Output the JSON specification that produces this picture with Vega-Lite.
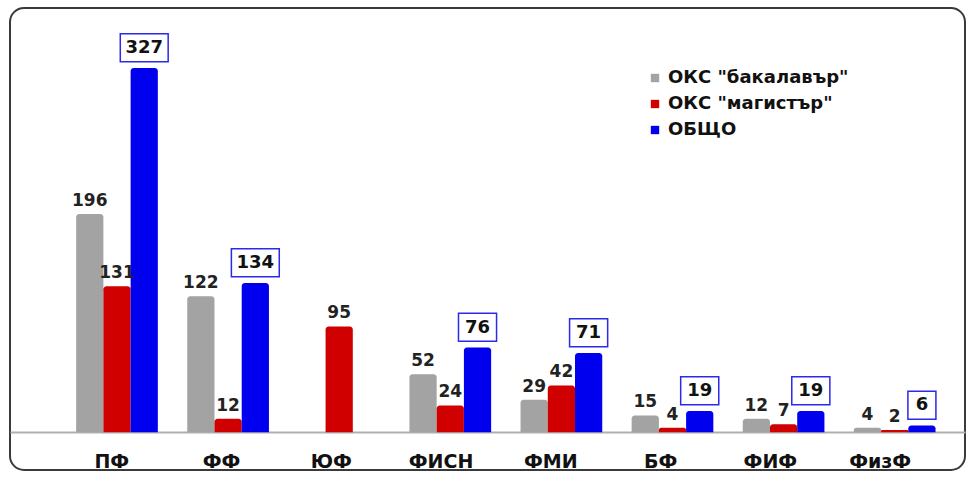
{
  "$schema": "https://vega.github.io/schema/vega-lite/v6.json",
  "width": 955,
  "height": 462,
  "autosize": {"type": "none"},
  "padding": {"left": 10, "top": 8, "right": 8, "bottom": 12},
  "background": "white",
  "config": {
    "view": {"stroke": "#3a3a3a", "strokeWidth": 2, "cornerRadius": 14},
    "font": "DejaVu Sans"
  },
  "data": {
    "values": [
      {"fac": "ПФ", "series": "ОКС \"бакалавър\"", "value": 196},
      {"fac": "ПФ", "series": "ОКС \"магистър\"", "value": 131},
      {"fac": "ПФ", "series": "ОБЩО", "value": 327},
      {"fac": "ФФ", "series": "ОКС \"бакалавър\"", "value": 122},
      {"fac": "ФФ", "series": "ОКС \"магистър\"", "value": 12},
      {"fac": "ФФ", "series": "ОБЩО", "value": 134},
      {"fac": "ЮФ", "series": "ОКС \"магистър\"", "value": 95},
      {"fac": "ФИСН", "series": "ОКС \"бакалавър\"", "value": 52},
      {"fac": "ФИСН", "series": "ОКС \"магистър\"", "value": 24},
      {"fac": "ФИСН", "series": "ОБЩО", "value": 76},
      {"fac": "ФМИ", "series": "ОКС \"бакалавър\"", "value": 29},
      {"fac": "ФМИ", "series": "ОКС \"магистър\"", "value": 42},
      {"fac": "ФМИ", "series": "ОБЩО", "value": 71},
      {"fac": "БФ", "series": "ОКС \"бакалавър\"", "value": 15},
      {"fac": "БФ", "series": "ОКС \"магистър\"", "value": 4},
      {"fac": "БФ", "series": "ОБЩО", "value": 19},
      {"fac": "ФИФ", "series": "ОКС \"бакалавър\"", "value": 12},
      {"fac": "ФИФ", "series": "ОКС \"магистър\"", "value": 7},
      {"fac": "ФИФ", "series": "ОБЩО", "value": 19},
      {"fac": "ФизФ", "series": "ОКС \"бакалавър\"", "value": 4},
      {"fac": "ФизФ", "series": "ОКС \"магистър\"", "value": 2},
      {"fac": "ФизФ", "series": "ОБЩО", "value": 6}
    ]
  },
  "resolve": {"scale": {"x": "independent"}, "axis": {"x": "independent"}},
  "layer": [
    {
      "mark": {"type": "bar", "opacity": 0},
      "encoding": {
        "x": {
          "field": "fac",
          "type": "nominal",
          "sort": ["ПФ", "ФФ", "ЮФ", "ФИСН", "ФМИ", "БФ", "ФИФ", "ФизФ"],
          "scale": {"type": "band", "paddingInner": 0, "paddingOuter": 0.35, "align": 0.61},
          "axis": {
            "title": null,
            "orient": "bottom",
            "offset": -38,
            "ticks": false,
            "domain": true,
            "domainColor": "#b0b0b0",
            "domainWidth": 2,
            "labelAngle": 0,
            "labelPadding": 20,
            "labelFont": "DejaVu Sans",
            "labelFontWeight": "bold",
            "labelFontSize": 19,
            "labelColor": "#111"
          }
        },
        "y": {
          "field": "value",
          "type": "quantitative",
          "scale": {"domain": [-34, 381], "nice": false, "zero": false},
          "axis": null
        },
        "y2": {"datum": 0}
      }
    },
    {
      "encoding": {
        "x": {
          "field": "fac",
          "type": "nominal",
          "sort": ["ПФ", "ФФ", "ЮФ", "ФИСН", "ФМИ", "БФ", "ФИФ", "ФизФ"],
          "scale": {"type": "band", "paddingInner": 0, "paddingOuter": 0.298, "align": 0.777},
          "axis": null
        },
        "xOffset": {
          "field": "series",
          "type": "nominal",
          "sort": ["ОКС \"бакалавър\"", "ОКС \"магистър\"", "ОБЩО"],
          "scale": {"paddingInner": 0, "paddingOuter": 0.54}
        },
        "y": {
          "field": "value",
          "type": "quantitative",
          "scale": {"domain": [-34, 381], "nice": false, "zero": false},
          "axis": null
        }
      },
      "layer": [
        {
          "mark": {"type": "bar", "cornerRadiusTopLeft": 3, "cornerRadiusTopRight": 3},
          "encoding": {
            "y2": {"datum": 0},
            "color": {
              "field": "series",
              "type": "nominal",
              "sort": ["ОКС \"бакалавър\"", "ОКС \"магистър\"", "ОБЩО"],
              "scale": {
                "domain": ["ОКС \"бакалавър\"", "ОКС \"магистър\"", "ОБЩО"],
                "range": ["#a3a3a3", "#d00000", "#0000ee"]
              },
              "legend": {
                "title": null,
                "orient": "none",
                "legendX": 636,
                "legendY": 61,
                "symbolType": "square",
                "symbolSize": 70,
                "symbolStrokeWidth": 0,
                "labelFont": "DejaVu Sans",
                "labelFontWeight": "bold",
                "labelFontSize": 18,
                "labelColor": "#111",
                "labelLimit": 400,
                "rowPadding": 8,
                "labelOffset": 4
              }
            }
          }
        },
        {
          "transform": [{"filter": "datum.series != 'ОБЩО'"}],
          "mark": {
            "type": "text",
            "baseline": "alphabetic",
            "dy": -8,
            "font": "DejaVu Sans",
            "fontWeight": "bold",
            "fontSize": 17,
            "color": "#222"
          },
          "encoding": {"text": {"field": "value", "type": "quantitative"}}
        },
        {
          "transform": [{"filter": "datum.series == 'ОБЩО'"}],
          "mark": {
            "type": "point",
            "fill": "white",
            "fillOpacity": 1,
            "opacity": 1,
            "stroke": "#2a2ae8",
            "strokeWidth": 1.5,
            "size": 784
          },
          "encoding": {
            "shape": {
              "condition": [
                {"test": "datum.value >= 100", "value": "M-1.71,-2.45H1.71V-0.45H-1.71Z"},
                {"test": "datum.value < 10", "value": "M-1.0,-2.45H1.0V-0.45H-1.0Z"}
              ],
              "value": "M-1.36,-2.45H1.36V-0.45H-1.36Z"
            }
          }
        },
        {
          "transform": [{"filter": "datum.series == 'ОБЩО'"}],
          "mark": {
            "type": "text",
            "baseline": "middle",
            "dy": -20,
            "font": "DejaVu Sans",
            "fontWeight": "bold",
            "fontSize": 18,
            "color": "#111"
          },
          "encoding": {"text": {"field": "value", "type": "quantitative"}}
        }
      ]
    }
  ]
}
